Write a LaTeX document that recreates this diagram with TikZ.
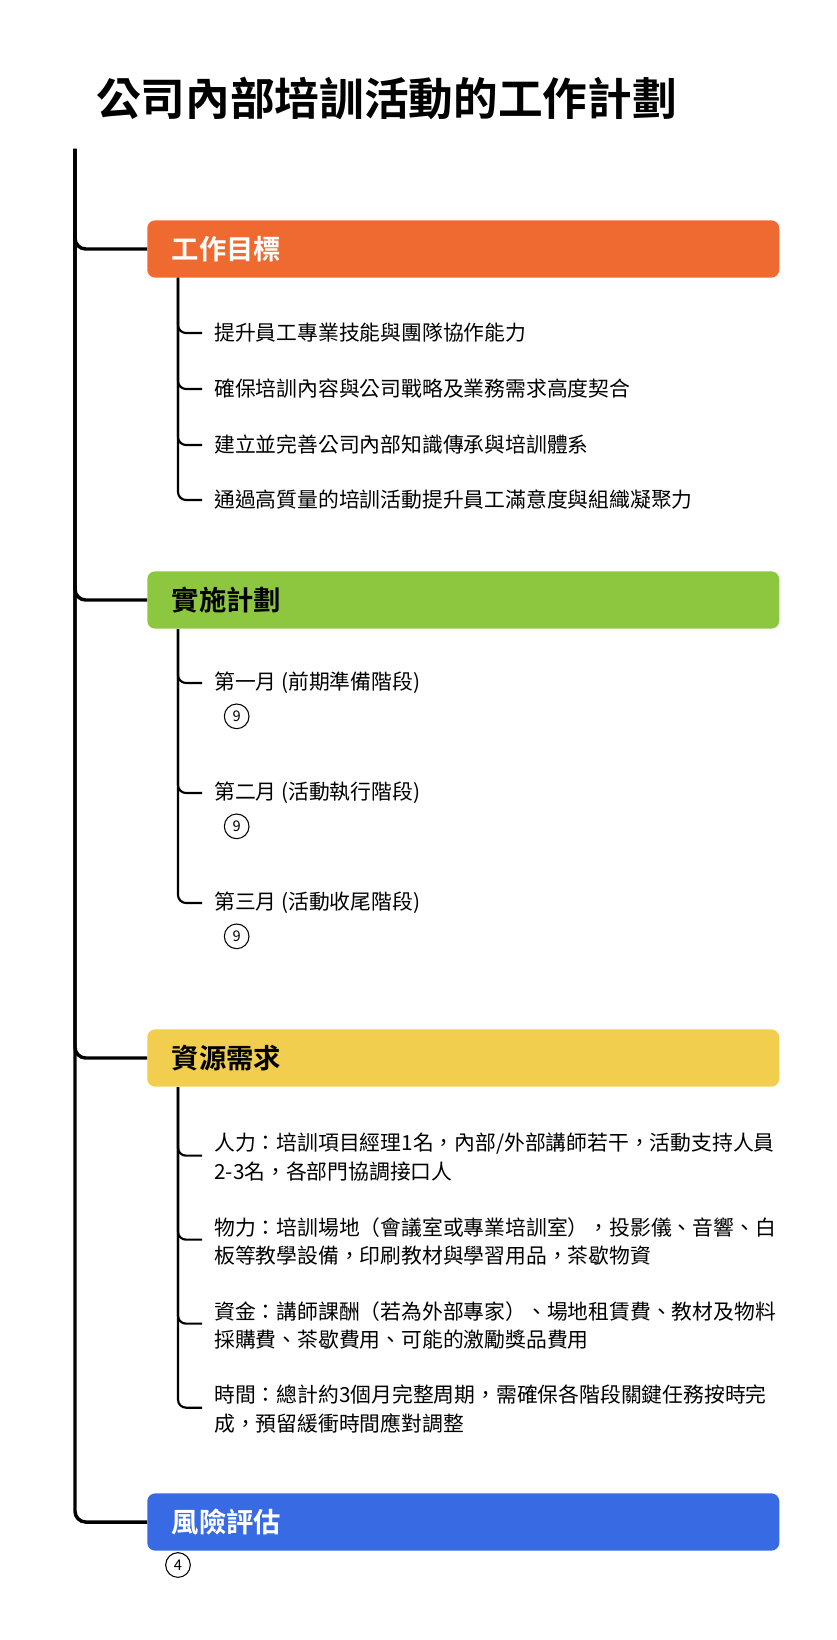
\documentclass[tikz,border=0pt]{standalone}
\usepackage{fontspec}
\setmainfont{Noto Sans CJK TC}
\newfontfamily\cjkbold{Noto Sans CJK TC Bold}
\definecolor{orangehead}{HTML}{EE6A30}
\definecolor{greenhead}{HTML}{8DC63F}
\definecolor{yellowhead}{HTML}{F2CE4E}
\definecolor{bluehead}{HTML}{376AE3}
\tikzset{
  headbox/.style={rounded corners=6pt, minimum width=474pt, minimum height=43pt, anchor=west, inner sep=0pt},
  headtext/.style={anchor=west, font=\cjkbold\fontsize{20.5}{24}\selectfont},
  itemtext/.style={anchor=west, inner sep=0pt, align=left, font=\fontsize{15.6}{21.5}\selectfont},
  countmark/.style={circle, draw, line width=0.8pt, minimum size=18.5pt, inner sep=0pt, font=\fontsize{11}{11}\selectfont},
  trunk/.style={line width=2.6pt, rounded corners=8pt},
  twig/.style={line width=1.6pt, rounded corners=6pt}
}
\begin{document}
\begin{tikzpicture}[x=0.75pt,y=-0.75pt]
  \useasboundingbox (0,0) rectangle (837,1640);
  \node[anchor=west, inner sep=0pt, font=\cjkbold\fontsize{33.5}{36}\selectfont] (title) at (96,99) {公司內部培訓活動的工作計劃};

  % headers
  \node[headbox, fill=orangehead] (goal) at (147,249) {};
  \node[headtext, text=white] at (167,249) {工作目標};
  \node[headbox, fill=greenhead] (plan) at (147,600) {};
  \node[headtext] at (167,600) {實施計劃};
  \node[headbox, fill=yellowhead] (res) at (147,1058) {};
  \node[headtext] at (167,1058) {資源需求};
  \node[headbox, fill=bluehead] (risk) at (147,1522) {};
  \node[headtext, text=white] at (167,1522) {風險評估};

  % trunk
  \coordinate (top) at (75,149);
  \draw[trunk] (top) |- (goal.west);
  \draw[trunk] (top) |- (plan.west);
  \draw[trunk] (top) |- (res.west);
  \draw[trunk] (top) |- (risk.west);

  % goals
  \node[itemtext] (g1) at (214,333) {提升員工專業技能與團隊協作能力};
  \node[itemtext] (g2) at (214,389) {確保培訓內容與公司戰略及業務需求高度契合};
  \node[itemtext] (g3) at (214,445) {建立並完善公司內部知識傳承與培訓體系};
  \node[itemtext] (g4) at (214,500) {通過高質量的培訓活動提升員工滿意度與組織凝聚力};
  \foreach \n in {g1,g2,g3,g4}
    \draw[twig] (178,278) |- ([xshift=-9pt]\n.west);

  % plan
  \node[itemtext] (p1) at (214,683) {第一月 (前期準備階段)};
  \node[itemtext] (p2) at (214,793) {第二月 (活動執行階段)};
  \node[itemtext] (p3) at (214,903) {第三月 (活動收尾階段)};
  \foreach \n in {p1,p2,p3} {
    \draw[twig] (178,629) |- ([xshift=-9pt]\n.west);
    \node[countmark] at ([xshift=17pt,yshift=-25pt]\n.west) {9};
  }

  % resources
  \node[itemtext, anchor=north west] (r1) at (214,1133) {人力：培訓項目經理1名，內部/外部講師若干，活動支持人員\\2-3名，各部門協調接口人};
  \node[itemtext, anchor=north west] (r2) at (214,1217) {物力：培訓場地（會議室或專業培訓室），投影儀、音響、白\\板等教學設備，印刷教材與學習用品，茶歇物資};
  \node[itemtext, anchor=north west] (r3) at (214,1301) {資金：講師課酬（若為外部專家）、場地租賃費、教材及物料\\採購費、茶歇費用、可能的激勵獎品費用};
  \node[itemtext, anchor=north west] (r4) at (214,1385) {時間：總計約3個月完整周期，需確保各階段關鍵任務按時完\\成，預留緩衝時間應對調整};
  \foreach \n in {r1,r2,r3,r4}
    \draw[twig] (178,1087) |- ([xshift=-9pt,yshift=-17pt]\n.north west);

  % risk
  \node[countmark] (rc) at (178,1565) {4};
\end{tikzpicture}
\end{document}
